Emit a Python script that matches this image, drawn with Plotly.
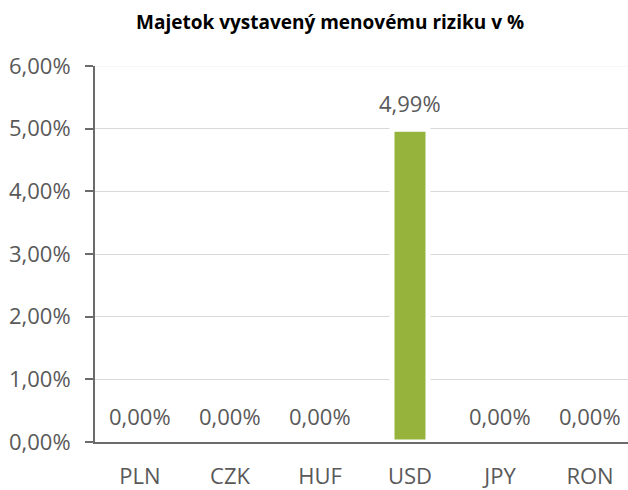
import plotly.graph_objects as go

categories = ["PLN", "CZK", "HUF", "USD", "JPY", "RON"]
values = [0.0, 0.0, 0.0, 4.99, 0.0, 0.0]
y_ticks = [0, 1, 2, 3, 4, 5, 6]
title_text = "Majetok vystavený menovému riziku v %"

FONT = "Open Sans, Noto Sans, sans-serif"
GRAY = "#595959"
AXIS = "#6B6B6B"
GREEN = "#96B43C"

W, H = 628, 490
L, R, T, B = 95, 0, 66, 40
plot_h = H - T - B
band = 90.0
x_right = -0.5 + (W - L - R) / band

fig = go.Figure()
fig.add_trace(go.Bar(
    x=list(range(len(categories))), y=values,
    marker=dict(color=GREEN, line=dict(color="white", width=5)),
    width=0.4,
    hoverinfo="skip",
))

def fmt(v):
    return f"{v:.2f}%".replace(".", ",")

annotations = []
for i, v in enumerate(values):
    annotations.append(dict(
        x=i, y=v, xref="x", yref="y", text=fmt(v), showarrow=False,
        yanchor="middle", yshift=26,
        font=dict(family=FONT, size=22, color=GRAY),
        bgcolor="white",
    ))
annotations.append(dict(
    x=(329.5 - L) / (W - L - R), y=1 + (T - 21.5) / plot_h,
    xref="paper", yref="paper",
    text=f"<b>{title_text}</b>", showarrow=False,
    font=dict(family=FONT, size=19, color="#000000"),
    xanchor="center", yanchor="middle",
))

fig.update_layout(
    width=W, height=H,
    margin=dict(l=L, r=R, t=T, b=B, pad=0),
    paper_bgcolor="white", plot_bgcolor="white",
    showlegend=False,
    annotations=annotations,
    shapes=[dict(type="line", xref="paper", yref="y", x0=0, x1=1, y0=6, y1=6,
                 line=dict(color="#F0F0F0", width=1), layer="above")],
)
fig.update_yaxes(
    range=[0, 6], tickvals=y_ticks,
    ticktext=[fmt(t) for t in y_ticks],
    showgrid=True, gridcolor="#D9D9D9", gridwidth=1,
    showline=True, linecolor=AXIS, linewidth=2,
    ticks="outside", ticklen=8, tickcolor=AXIS, tickwidth=2,
    ticklabelstandoff=10,
    tickfont=dict(family=FONT, size=22, color=GRAY),
    zeroline=False, fixedrange=True,
)
fig.update_xaxes(
    range=[-0.5, x_right],
    tickvals=list(range(len(categories))), ticktext=categories,
    showline=True, linecolor=AXIS, linewidth=2,
    ticks="", ticklabelstandoff=14,
    tickfont=dict(family=FONT, size=22, color=GRAY),
    showgrid=False, zeroline=False, fixedrange=True,
)
fig.write_html(
    "out.html",
    config={"displayModeBar": False, "staticPlot": True},
    post_script="document.body.style.margin='0';document.body.style.overflow='hidden';",
)
